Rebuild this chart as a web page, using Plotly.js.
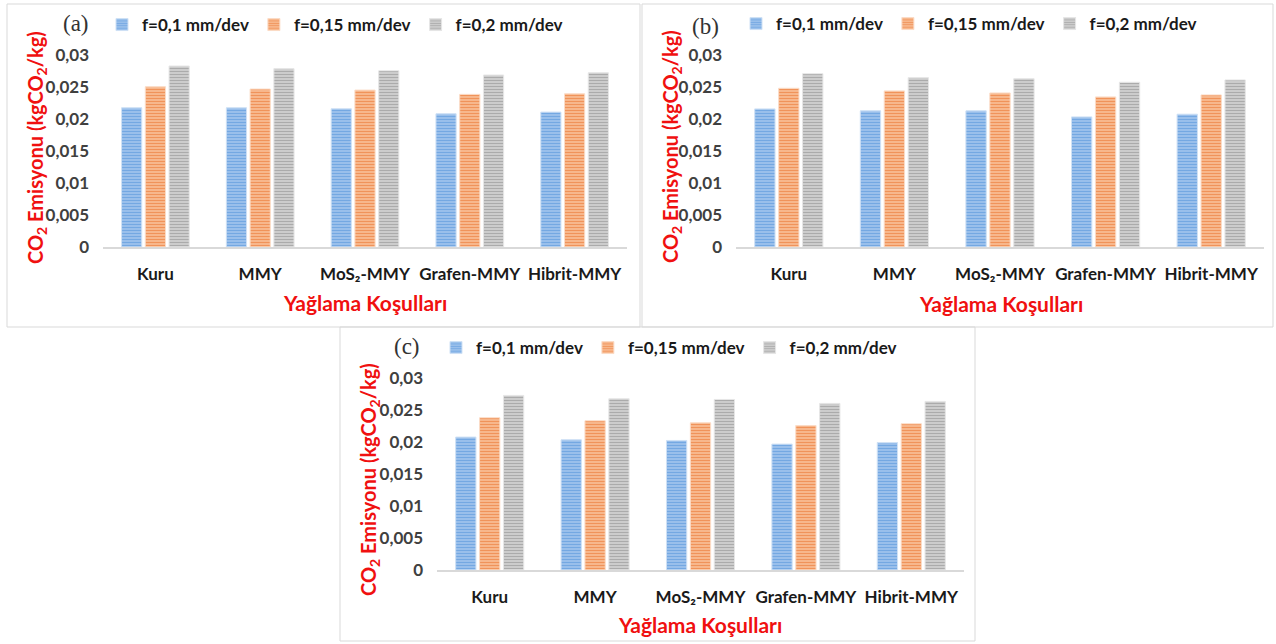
<!DOCTYPE html>
<html>
<head>
<meta charset="utf-8">
<script src="https://cdn.plot.ly/plotly-3.0.1.min.js"></script>
<style>
html,body{margin:0;padding:0;background:#fff;}
#chart{width:1276px;height:644px;}
</style>
</head>
<body>
<div id="chart"></div>
<script>
// ---- data ----
const categories = ['Kuru', 'MMY', 'MoS₂-MMY', 'Grafen-MMY', 'Hibrit-MMY'];
const seriesNames = ['f=0,1 mm/dev', 'f=0,15 mm/dev', 'f=0,2 mm/dev'];
const yTickVals = [0, 0.005, 0.01, 0.015, 0.02, 0.025, 0.03];
const yTickText = ['0', '0,005', '0,01', '0,015', '0,02', '0,025', '0,03'];
const panelLabels = ['(a)', '(b)', '(c)'];
const xTitle = 'Yağlama Koşulları';
const yTitle = 'CO<sub>2</sub> Emisyonu (kgCO<sub>2</sub>/kg)';

// panel (a)
const a_f01  = [0.02175, 0.02175, 0.02160, 0.02081, 0.02108];
const a_f015 = [0.02504, 0.02468, 0.02452, 0.02385, 0.02394];
const a_f02  = [0.02828, 0.02786, 0.02754, 0.02687, 0.02723];
// panel (b)
const b_f01  = [0.02158, 0.02127, 0.02127, 0.02033, 0.02075];
const b_f015 = [0.02480, 0.02439, 0.02407, 0.02345, 0.02376];
const b_f02  = [0.02708, 0.02646, 0.02630, 0.02574, 0.02610];
// panel (c)
const c_f01  = [0.02077, 0.02034, 0.02024, 0.01967, 0.01992];
const c_f015 = [0.02379, 0.02332, 0.02300, 0.02258, 0.02285];
const c_f02  = [0.02728, 0.02676, 0.02665, 0.02603, 0.02634];

// ---- styling ----
const W = 1276, H = 644;
const px = v => v / W;
const py = v => 1 - v / H;
const FONT = 'Lato, "Open Sans", "DejaVu Sans", sans-serif';

const barStyles = [
  {bg: '#9dc2ec', fg: '#74a8e2', line: '#cfe1f5'},
  {bg: '#f8bb92', fg: '#f0935a', line: '#fbdcc7'},
  {bg: '#d0d0d0', fg: '#ababab', line: '#e6e6e6'}
];

const panels = [
  {data: [a_f01, a_f015, a_f02], xa: 'x',  ya: 'y',  legend: 'legend',
   xd: [103, 627], yd: [247, 55]},
  {data: [b_f01, b_f015, b_f02], xa: 'x2', ya: 'y2', legend: 'legend2',
   xd: [736, 1264], yd: [247, 55]},
  {data: [c_f01, c_f015, c_f02], xa: 'x3', ya: 'y3', legend: 'legend3',
   xd: [437, 964], yd: [570, 378]}
];

const traces = [];
panels.forEach(p => {
  p.data.forEach((vals, i) => {
    traces.push({
      type: 'bar',
      x: categories,
      y: vals,
      name: seriesNames[i],
      xaxis: p.xa,
      yaxis: p.ya,
      legend: p.legend,
      marker: {
        color: barStyles[i].bg,
        line: {color: barStyles[i].line, width: 1},
        pattern: {shape: '-', fillmode: 'replace', bgcolor: barStyles[i].bg,
                  fgcolor: barStyles[i].fg, size: 3, solidity: 0.4}
      },
      hoverinfo: 'skip'
    });
  });
});

function xAxis(p) {
  return {
    domain: [px(p.xd[0]), px(p.xd[1])],
    anchor: p.ya,
    showline: true, linecolor: '#d9d9d9', linewidth: 2,
    showgrid: false, zeroline: false, ticks: '',
    tickangle: 0,
    ticklabelstandoff: 11,
    tickfont: {family: FONT, size: 17, color: '#1a1a1a', weight: 'bold'},
    fixedrange: true
  };
}
function yAxis(p) {
  return {
    domain: [py(p.yd[0]), py(p.yd[1])],
    anchor: p.xa,
    range: [0, 0.03],
    tickvals: yTickVals, ticktext: yTickText,
    showline: false, showgrid: false, zeroline: false, ticks: '',
    ticklabelstandoff: 13,
    tickfont: {family: FONT, size: 17, color: '#404040', weight: 'bold'},
    fixedrange: true
  };
}

function legendAt(x, y) {
  return {
    orientation: 'h', x: px(x), y: py(y), xanchor: 'left', yanchor: 'middle',
    xref: 'paper', yref: 'paper',
    font: {family: FONT, size: 17, color: '#1a1a1a', weight: 'bold'},
    bgcolor: 'rgba(0,0,0,0)', itemwidth: 30, itemclick: false, itemdoubleclick: false
  };
}

const boxes = [
  [7, 4, 640, 327],
  [642, 4, 1273, 327],
  [340, 327, 975, 641]
];
const shapes = boxes.map(b => ({
  type: 'rect', xref: 'paper', yref: 'paper',
  x0: px(b[0]), x1: px(b[2]), y0: py(b[3]), y1: py(b[1]),
  line: {color: '#d9d9d9', width: 1}, fillcolor: 'rgba(0,0,0,0)', layer: 'below'
}));

const annPos = [
  {lab: [76, 24], yt: [36, 148], xt: [365, 302]},
  {lab: [706, 26], yt: [671, 147], xt: [1001, 303]},
  {lab: [407, 346], yt: [369, 480], xt: [700, 624]}
];
const annotations = [];
annPos.forEach((a, i) => {
  annotations.push({
    text: panelLabels[i], xref: 'paper', yref: 'paper',
    x: px(a.lab[0]), y: py(a.lab[1]), xanchor: 'center', yanchor: 'middle',
    showarrow: false,
    font: {family: '"Liberation Serif", "DejaVu Serif", serif', size: 23, color: '#333'}
  });
  annotations.push({
    text: yTitle, xref: 'paper', yref: 'paper',
    x: px(a.yt[0]), y: py(a.yt[1]), xanchor: 'center', yanchor: 'middle',
    textangle: -90, showarrow: false,
    font: {family: FONT, size: 20, color: '#f01010', weight: 'bold'}
  });
  annotations.push({
    text: xTitle, xref: 'paper', yref: 'paper',
    x: px(a.xt[0]), y: py(a.xt[1]), xanchor: 'center', yanchor: 'middle',
    showarrow: false,
    font: {family: FONT, size: 21, color: '#f01010', weight: 'bold'}
  });
});

const layout = {
  width: W, height: H,
  margin: {l: 0, r: 0, t: 0, b: 0},
  paper_bgcolor: '#fff', plot_bgcolor: 'rgba(0,0,0,0)',
  barmode: 'group', bargap: 0.32, bargroupgap: 0.15,
  showlegend: true,
  font: {family: FONT},
  xaxis: xAxis(panels[0]), yaxis: yAxis(panels[0]),
  xaxis2: xAxis(panels[1]), yaxis2: yAxis(panels[1]),
  xaxis3: xAxis(panels[2]), yaxis3: yAxis(panels[2]),
  legend: legendAt(102, 25),
  legend2: legendAt(736, 24),
  legend3: legendAt(436, 348),
  shapes: shapes,
  annotations: annotations
};

Plotly.newPlot('chart', traces, layout, {displayModeBar: false, staticPlot: true});
</script>
</body>
</html>
